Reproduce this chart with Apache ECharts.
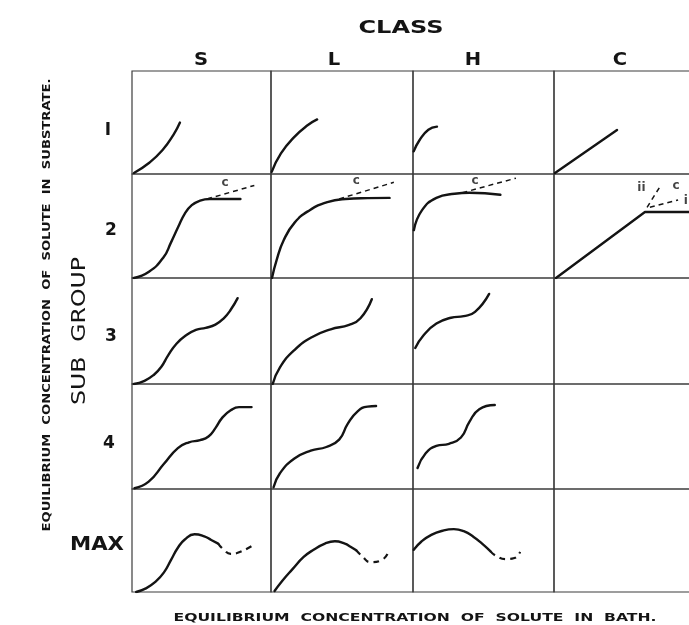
<!DOCTYPE html>
<html><head><meta charset="utf-8">
<script src="https://cdn.jsdelivr.net/npm/echarts@6/dist/echarts.min.js"></script>
<style>html,body{margin:0;padding:0;background:#fff}#c{width:689px;height:625px}</style>
</head><body><div id="c"></div>
<script>
// ---------- categories ----------
const classes = ['S', 'L', 'H', 'C'];
const subgroups = ['I', '2', '3', '4', 'MAX'];
const rowKeys = ['1', '2', '3', '4', 'MAX'];

// ---------- curves (each cell: x 0..10, y 0..10) ----------
const S1 = [[0.14,0.1],[1.22,1.07],[2.2,2.33],[2.98,3.8],[3.45,5.0]];
const L1 = [[0.05,0.2],[0.7,2.0],[1.65,3.6],[2.6,4.75],[3.25,5.3]];
const H1 = [[0.05,2.2],[0.47,3.3],[1.09,4.3],[1.7,4.6]];
const C1 = [[0.07,0.1],[4.47,4.27]];

const S2 = [[0.13,0],[1.22,0.6],[2.27,2.0],[2.8,3.4],[3.32,4.9],[3.8,6.2],[4.3,7.0],[4.9,7.45],[5.6,7.6],[6.7,7.6],[7.8,7.6]];
const S2c = [[5.4,7.6],[8.8,8.9]];
const L2 = [[0.07,0],[0.39,1.7],[0.9,3.65],[1.65,5.3],[2.7,6.5],[3.97,7.3],[5.25,7.6],[6.8,7.68],[8.35,7.7]];
const L2c = [[4.8,7.6],[8.65,9.2]];
const H2 = [[0.06,4.6],[0.63,6.5],[1.66,7.7],[2.95,8.1],[4.0,8.2],[5.1,8.15],[6.2,8.0]];
const H2c = [[3.5,8.2],[7.3,9.6]];
const C2 = [[0.14,0],[6.45,6.35],[10,6.35]];
const C2ii = [[6.6,6.8],[7.5,8.75]];
const C2i = [[6.8,6.8],[8.8,7.5]];

const S3 = [[0.13,0],[0.9,0.3],[1.6,0.9],[2.1,1.6],[2.6,2.7],[3.2,3.8],[3.9,4.6],[4.6,5.1],[5.3,5.3],[6.0,5.6],[6.6,6.2],[7.1,7.0],[7.6,8.1]];
const L3 = [[0.12,0],[0.63,1.57],[1.65,3.2],[2.94,4.46],[4.2,5.16],[5.5,5.57],[6.3,6.2],[7.1,8.0]];
const H3 = [[0.16,3.4],[0.75,4.6],[1.66,5.7],[2.7,6.25],[3.6,6.4],[4.4,6.8],[5.4,8.5]];

const S4 = [[0.18,0.07],[1.2,0.7],[2.3,2.4],[3.3,3.9],[4.1,4.45],[4.9,4.65],[5.5,5.0],[6.0,5.8],[6.5,6.8],[7.1,7.5],[7.7,7.8],[8.6,7.8]];
const L4 = [[0.18,0.16],[0.63,1.5],[1.65,2.9],[2.8,3.65],[3.9,4.0],[4.8,4.7],[5.4,6.2],[6.1,7.4],[6.8,7.85],[7.4,7.9]];
const H4 = [[0.32,2.0],[0.9,3.4],[1.66,4.1],[2.55,4.3],[3.4,4.9],[4.0,6.4],[4.7,7.6],[5.8,8.0]];

const SMAX = [[0.3,0],[1.0,0.35],[1.7,1.0],[2.3,1.9],[2.8,3.1],[3.3,4.3],[3.8,5.1],[4.5,5.6],[5.2,5.4],[5.7,5.05],[6.2,4.7]];
const SMAXd = [[6.2,4.7],[6.6,4.1],[7.1,3.7],[7.8,3.9],[8.9,4.7]];
const LMAX = [[0.25,0.1],[0.8,1.1],[1.5,2.2],[2.3,3.4],[3.0,4.1],[3.8,4.7],[4.5,4.92],[5.2,4.7],[5.6,4.4],[6.0,4.05]];
const LMAXd = [[6.0,4.05],[6.4,3.5],[7.0,2.9],[7.8,3.1],[8.3,4.0]];
const HMAX = [[0.05,4.1],[0.6,4.9],[1.3,5.55],[2.1,5.95],[2.9,6.1],[3.6,5.9],[4.3,5.35],[4.9,4.7],[5.5,3.95]];
const HMAXd = [[5.5,3.95],[5.9,3.5],[6.6,3.2],[7.2,3.3],[7.6,3.9]];

// notes: [cell, text, x, y]
const notes = [['S2','c',6.7,9.1],['L2','c',6.0,9.3],['H2','c',4.4,9.35],['C2','ii',6.2,8.7],['C2','c',8.65,8.9],['C2','i',9.35,7.4]];

// ---------- text ----------
const titleTop = 'CLASS';
const titleSide = 'SUB  GROUP';
const axisX = 'EQUILIBRIUM  CONCENTRATION  OF  SOLUTE  IN  BATH.';
const axisY = 'EQUILIBRIUM  CONCENTRATION  OF  SOLUTE  IN  SUBSTRATE.';

const solid = {S1,L1,H1,C1,S2,L2,H2,C2,S3,L3,H3,S4,L4,H4,SMAX,LMAX,HMAX};
const dashed = {S2:[S2c],L2:[L2c],H2:[H2c],C2:[C2ii,C2i],SMAX:[SMAXd],LMAX:[LMAXd],HMAX:[HMAXd]};
const straight = {C1:true, C2:true};

// ---------- layout ----------
const colX = [132, 271, 413, 554], colW = [139, 142, 141, 141];
const rowY = [71, 174, 278, 384, 489], rowH = [103, 104, 106, 105, 103];
const FAM = 'DejaVu Sans';
const INK = '#141414';

const grids = [], xAxes = [], yAxes = [], series = [];
rowKeys.forEach((rk, r) => {
  classes.forEach((ck, c) => {
    const gi = grids.length;
    grids.push({left: colX[c], top: rowY[r], width: colW[c], height: rowH[r],
      outerBoundsMode: 'none',
      show: true, borderColor: '#3c3c3c', borderWidth: 1.2, backgroundColor: 'transparent', containLabel: false});
    xAxes.push({gridIndex: gi, type: 'value', min: 0, max: 10, show: false});
    yAxes.push({gridIndex: gi, type: 'value', min: 0, max: 10, show: false});
    const key = ck + rk;
    if (solid[key]) {
      series.push({type: 'line', xAxisIndex: gi, yAxisIndex: gi, data: solid[key],
        smooth: straight[key] ? false : 0.5, symbol: 'none', silent: true,
        lineStyle: {color: INK, width: 2.4, cap: 'round', join: 'round'}});
    }
    (dashed[key] || []).forEach(d => {
      const thin = rk !== 'MAX';
      series.push({type: 'line', xAxisIndex: gi, yAxisIndex: gi, data: d,
        smooth: thin ? false : 0.5, symbol: 'none', silent: true,
        lineStyle: {color: INK, width: thin ? 1.5 : 2.2, type: thin ? [5, 4] : [6, 5]}});
    });
    const ns = notes.filter(n => n[0] === key);
    if (ns.length) {
      series.push({type: 'scatter', xAxisIndex: gi, yAxisIndex: gi, symbolSize: 0, silent: true,
        data: ns.map(n => ({value: [n[2], n[3]], name: n[1]})),
        label: {show: true, position: 'inside', formatter: p => p.name, color: INK,
          fontFamily: FAM, fontSize: 12, fontWeight: 'bold'}});
    }
  });
});

function measure(text, size, weight) {
  const ctx = document.createElement('canvas').getContext('2d');
  ctx.font = weight + ' ' + size + 'px "' + FAM + '"';
  return ctx.measureText(text).width;
}
function txt(text, cx, cy, size, weight, opts) {
  opts = opts || {};
  let s = opts.scale || 1;
  if (opts.len) s = opts.len / measure(text, size, weight);
  return {type: 'text', x: cx, y: cy, rotation: opts.rot || 0, scaleX: s, scaleY: 1, silent: true,
    style: {text: text, fontSize: size, fontWeight: weight, fontFamily: FAM, fill: INK,
      align: 'center', verticalAlign: 'middle', textAlign: 'center', textVerticalAlign: 'middle'}};
}

const colCx = [201, 334, 473, 620];
const rowCy = [131, 231, 337, 444, 545];
const rowCx = [108, 111, 111, 109, 97];
const graphic = [];
graphic.push(txt(titleTop, 401, 28, 18, 'bold', {len: 85}));
classes.forEach((c, i) => graphic.push(txt(c, colCx[i], 61, 17, 'bold', {scale: 1.15})));
subgroups.forEach((s, i) => graphic.push(s === 'MAX'
  ? txt(s, rowCx[i], rowCy[i], 19, 'bold', {len: 54})
  : txt(s, rowCx[i], rowCy[i], 17, 'bold')));
graphic.push(txt(titleSide, 80, 331, 19, 'normal', {len: 148, rot: Math.PI / 2}));
graphic.push(txt(axisY, 47, 305, 11, 'bold', {len: 453, rot: Math.PI / 2}));
graphic.push(txt(axisX, 415, 618, 11, 'bold', {len: 483}));

const chart = echarts.init(document.getElementById('c'), null, {renderer: 'canvas'});
chart.setOption({
  backgroundColor: '#ffffff',
  animation: false,
  grid: grids, xAxis: xAxes, yAxis: yAxes, series: series,
  graphic: graphic
});
</script>
</body></html>
